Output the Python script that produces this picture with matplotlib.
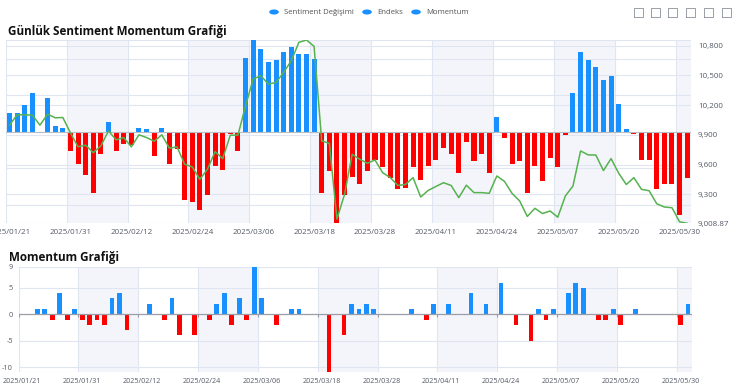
import matplotlib
matplotlib.use("Agg")
import matplotlib.pyplot as plt
from matplotlib.lines import Line2D
from matplotlib.patches import Circle
import numpy as np
import pandas as pd

W, H = 735, 388
plt.rcParams['font.family'] = ['Open Sans', 'DejaVu Sans']
plt.rcParams['axes.unicode_minus'] = False

# ----------------------------------- data -----------------------------------
HOLIDAYS = ["2025-03-31", "2025-04-01", "2025-04-23", "2025-05-01", "2025-05-19"]
dates = pd.bdate_range("2025-01-21", "2025-06-02", freq="C", holidays=HOLIDAYS)
date_labels = [d.strftime("%Y/%m/%d") for d in dates]

sentiment_change = [
    2.6, 2.6, 3.6, 5.3, -0.2, 4.6, 0.8, 0.55, -2.7, -4.4,
    -5.9, -8.4, -3.0, 1.3, -2.7, -1.7, -1.8, 0.55, 0.3, -3.4,
    0.55, -4.4, -2.4, -9.3, -9.7, -10.7, -8.7, -4.7, -5.2, -0.35,
    -2.7, 10.1, 12.55, 11.3, 9.6, 9.8, 10.9, 11.6, 10.6, 10.6,
    9.9, -8.4, -5.4, -12.5, -8.7, -6.2, -7.2, -5.4, -3.9, -4.9,
    -6.4, -7.9, -7.7, -4.9, -6.6, -4.7, -3.9, -2.2, -3.1, -5.6,
    -1.45, -4.0, -3.0, -5.7, 2.05, -0.9, -4.4, -4.0, -8.4, -4.65,
    -6.7, -3.65, -4.9, -0.45, 5.3, 10.9, 9.8, 8.8, 7.1, 7.6,
    3.8, 0.3, -0.35, -3.9, -3.9, -7.9, -7.2, -7.2, -11.4, -6.4,
]

endeks = [
    9998, 10102, 10102, 10099, 9998, 10109, 10072, 10075, 9920, 9780,
    9796, 9721, 9789, 9940, 9850, 9873, 9779, 9900, 9873, 9836,
    9900, 9766, 9779, 9604, 9577, 9452, 9554, 9731, 9661, 9897,
    9897, 10193, 10463, 10496, 10412, 10428, 10529, 10647, 10832, 10856,
    10792, 9839, 9816, 9052, 9300, 9704, 9654, 9614, 9647, 9519,
    9470, 9390, 9400, 9469, 9274, 9341, 9380, 9418, 9390, 9267,
    9393, 9318, 9318, 9311, 9486, 9432, 9310, 9234, 9078, 9160,
    9107, 9133, 9070, 9284, 9385, 9738, 9698, 9697, 9540, 9661,
    9514, 9400, 9469, 9351, 9337, 9206, 9173, 9166, 9024, 9008.87,
]

momentum = [
    0, 0, 1, 1, -1, 4, -1, 1, -1, -2,
    -1, -2, 3, 4, -3, 0, 0, 2, 0, -1,
    3, -4, 0, -4, 0, -1, 2, 4, -2, 3,
    -1, 9, 3, 0, -2, 0, 1, 1, 0, 0,
    0, -11, 0, -4, 2, 1, 2, 1, 0, 0,
    0, 0, 1, 0, -1, 2, 0, 2, 0, 0,
    4, 0, 2, 0, 6, 0, -2, 0, -5, 1,
    -1, 1, 0, 4, 6, 5, 0, -1, -1, 1,
    -2, 0, 1, 0, 0, 0, 0, 0, -2, 2,
]

endeks_ticks = [9008.87, 9300, 9600, 9900, 10200, 10500, 10800]
momentum_ticks = [-10, -5, 0, 5, 9]
legend_names = ["Sentiment Değişimi", "Endeks", "Momentum"]

# ---------------------------------- style -----------------------------------
BLUE = "#1890ff"
RED = "#ff0000"
GREEN = "#55b24f"
GRID = "#E0E6F1"
SHADE = "#f4f5fa"
LABEL = "#555a66"


def px_axes(fig, left, top, right, bottom):
    return fig.add_axes([left / W, 1 - bottom / H, (right - left) / W, (bottom - top) / H])


def style_category_axis(ax, n):
    # split areas / split lines every 8 categories, like the source dashboard
    bounds = list(np.arange(-0.5, n, 8)) + [n - 0.5]
    for k in range(len(bounds) - 1):
        if k % 2 == 1:
            ax.axvspan(bounds[k], bounds[k + 1], color=SHADE, zorder=0, lw=0)
    for b in bounds:
        ax.axvline(b, color=GRID, lw=0.8, zorder=0.5)
    ax.set_xlim(-0.5, n - 0.5)
    ticks = list(range(0, n, 8))
    ax.set_xticks(ticks)
    ax.set_xticklabels([date_labels[t] for t in ticks])
    ax.tick_params(axis="x", length=0, labelcolor=LABEL)
    for s in ax.spines.values():
        s.set_visible(False)
    return bounds


fig = plt.figure(figsize=(W / 100, H / 100), dpi=100)

# ------------------------------ top: sentiment ------------------------------
n = len(sentiment_change)
x = np.arange(n)
ax = px_axes(fig, 5.7, 40, 691, 223.3)
ax2 = ax.twinx()
style_category_axis(ax, n)
ax.tick_params(axis="x", labelsize=5.7, pad=4)

bar_lim = 12.56
ax.set_ylim(-bar_lim, bar_lim)
ax.set_yticks([])
for v in [-10, -5, 5, 10]:
    ax.axhline(v, color=GRID, lw=0.8, zorder=0.5)
e_lo, e_hi = 9008.87, 10856
for v in endeks_ticks[1:]:
    f = (v - e_lo) / (e_hi - e_lo)
    ax.plot([0, 1], [f, f], transform=ax.transAxes, color=GRID, lw=0.8, zorder=0.5)
ax.plot([0, 1], [1, 1], transform=ax.transAxes, color=GRID, lw=0.8, zorder=0.5)
ax.plot([0, 1], [0, 0], transform=ax.transAxes, color=GRID, lw=0.8, zorder=0.5)

colors = [BLUE if v >= 0 else RED for v in sentiment_change]
ax.bar(x, sentiment_change, width=0.66, color=colors, zorder=2)
ax.axhline(0, color="#b8bcc6", lw=0.8, zorder=2.5)

ax2.plot(x, endeks, color=GREEN, lw=1.1, zorder=3)
ax2.set_ylim(e_lo, e_hi)
ax2.set_yticks(endeks_ticks)
ax2.set_yticklabels([f"{v:,.2f}" if v % 1 else f"{v:,.0f}" for v in endeks_ticks])
ax2.tick_params(axis="y", length=0, pad=5, labelsize=5.8, labelcolor=LABEL)
for s in ax2.spines.values():
    s.set_visible(False)

fig.text(8 / W, 1 - 31 / H, "Günlük Sentiment Momentum Grafiği", fontsize=8.4,
         fontweight="bold", color="#111", va="center", ha="left")

# ----------------------------- bottom: momentum -----------------------------
bx = px_axes(fig, 18.6, 266.7, 691.7, 372.3)
bounds = style_category_axis(bx, n)
bx.tick_params(axis="x", labelsize=5.2, pad=4)
bx.set_ylim(-11, 9)
bx.set_yticks(momentum_ticks)
bx.set_yticklabels([str(v) for v in momentum_ticks])
bx.tick_params(axis="y", length=0, pad=4, labelsize=5.3, labelcolor=LABEL)
for v in [-10, -5, 5]:
    bx.axhline(v, color=GRID, lw=0.8, zorder=0.5)
bx.plot([0, 1], [1, 1], transform=bx.transAxes, color=GRID, lw=0.8, zorder=0.5)
bx.plot([0, 1], [0, 0], transform=bx.transAxes, color=GRID, lw=0.8, zorder=0.5)
mcolors = [BLUE if v >= 0 else RED for v in momentum]
bx.bar(x, momentum, width=0.63, color=mcolors, zorder=2)
bx.axhline(0, color="#9a9ea8", lw=0.9, zorder=2.5)
bx.vlines(bounds, -0.45, 0, color="#9a9ea8", lw=0.8, zorder=2.5)

fig.text(9 / W, 1 - 257.5 / H, "Momentum Grafiği", fontsize=8.4,
         fontweight="bold", color="#111", va="center", ha="left")

# --------------------------------- legend -----------------------------------
leg_x = [274, 367, 416]
for cx, name in zip(leg_x, legend_names):
    fig.patches.append(Circle((cx / W, 1 - 12 / H), 4.8 / W, transform=fig.transFigure,
                              facecolor=BLUE, edgecolor="none"))
    fig.text((cx + 10) / W, 1 - 12 / H, name, fontsize=5.6, color="#555",
             va="center", ha="left")

# toolbox icons (simple outline glyphs)
for cx in [638, 655, 672, 690, 708, 726]:
    x0, x1 = (cx - 4.5) / W, (cx + 4.5) / W
    y0, y1 = 1 - 16.5 / H, 1 - 7.5 / H
    fig.lines.append(Line2D([x0, x1, x1, x0, x0], [y0, y0, y1, y1, y0],
                            transform=fig.transFigure, color="#8a8f99", lw=0.6))

fig.savefig("out.png", dpi=100)
